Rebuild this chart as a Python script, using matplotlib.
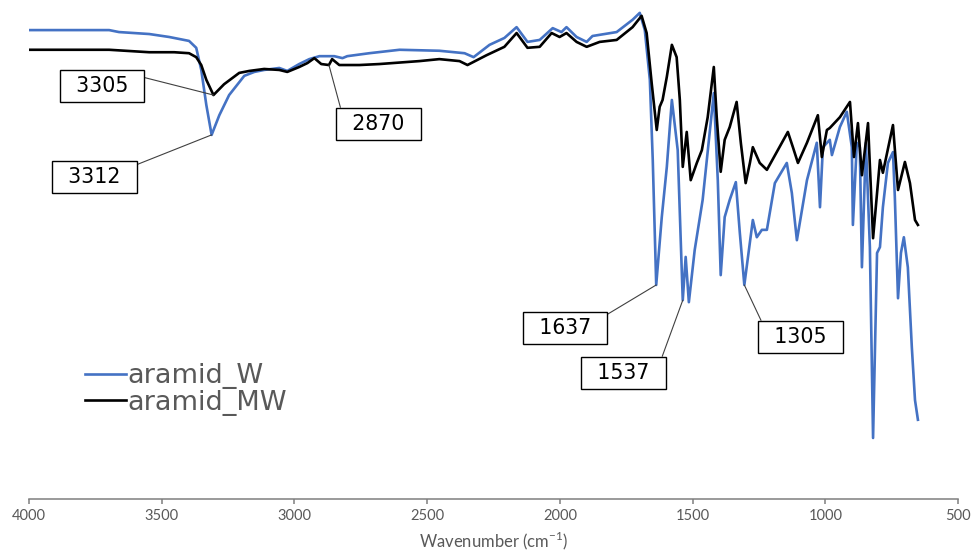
import numpy as np
import matplotlib
matplotlib.use("Agg")
import matplotlib.pyplot as plt

plt.rcParams["font.family"] = ["DejaVu Sans"]
plt.rcParams["mathtext.fontset"] = "custom"
plt.rcParams["mathtext.rm"] = "Lato"

# FTIR spectra, transmittance (a.u.) vs wavenumber
wn_w = [4000, 3698, 3661, 3547, 3472, 3397, 3370, 3351, 3332, 3312,
        3283, 3246, 3189, 3151, 3114, 3057, 3027, 2982, 2944, 2906,
        2850, 2819, 2801, 2718, 2604, 2454, 2359, 2325, 2265, 2209,
        2163, 2122, 2076, 2027, 1994, 1975, 1937, 1899, 1877, 1786,
        1726, 1699, 1680, 1661, 1650, 1637, 1616, 1597, 1578, 1556,
        1537, 1526, 1514, 1492, 1462, 1420, 1405, 1394, 1379, 1360,
        1337, 1322, 1305, 1273, 1258, 1239, 1220, 1190, 1145, 1126,
        1107, 1069, 1032, 1020, 1009, 983, 975, 945, 919, 900,
        896, 881, 870, 862, 847, 832, 820, 805, 794, 783,
        764, 745, 738, 726, 715, 704, 689, 674, 662, 651]
t_w = [94.9, 94.9, 94.5, 94.1, 93.5, 92.7, 91.3, 86.8, 79.7, 73.6,
       77.6, 81.7, 85.6, 86.4, 86.8, 87.2, 86.6, 88.0, 89.0, 89.6,
       89.6, 89.2, 89.6, 90.2, 90.9, 90.7, 90.2, 89.4, 91.9, 93.3,
       95.5, 92.5, 92.9, 95.3, 94.5, 95.5, 93.5, 92.5, 93.7, 94.5,
       97.0, 98.4, 94.9, 84.8, 68.5, 43.1, 56.9, 67.1, 80.7, 70.5,
       40.0, 48.8, 39.6, 50.2, 60.4, 82.1, 64.4, 45.1, 56.9, 60.4,
       64.0, 53.7, 43.1, 56.3, 52.8, 54.3, 54.3, 63.8, 67.9, 61.8,
       52.2, 64.4, 72.0, 58.9, 71.1, 72.6, 69.5, 75.2, 78.3, 71.1,
       55.3, 72.0, 71.1, 46.7, 72.0, 50.8, 12.0, 49.6, 50.8, 58.9,
       67.9, 70.1, 61.0, 40.4, 49.6, 52.8, 46.7, 30.5, 19.7, 15.7]

wn_mw = [4000, 3698, 3547, 3453, 3397, 3370, 3351, 3332, 3305, 3265,
         3208, 3170, 3114, 3057, 3027, 2982, 2951, 2925, 2899, 2870,
         2858, 2831, 2755, 2680, 2529, 2454, 2378, 2348, 2276, 2209,
         2163, 2122, 2076, 2031, 2001, 1975, 1937, 1899, 1850, 1786,
         1726, 1692, 1673, 1654, 1635, 1624, 1613, 1597, 1578, 1560,
         1548, 1537, 1522, 1507, 1484, 1465, 1443, 1420, 1409, 1394,
         1379, 1360, 1334, 1318, 1300, 1284, 1273, 1247, 1220, 1183,
         1141, 1122, 1103, 1069, 1028, 1013, 994, 983, 945, 907,
         892, 877, 862, 839, 820, 794, 783, 745, 726, 700,
         681, 662, 651]
t_mw = [90.9, 90.9, 90.4, 90.4, 90.2, 89.4, 87.8, 84.8, 81.7, 83.9,
        86.2, 86.6, 87.0, 86.8, 86.4, 87.4, 88.2, 89.2, 88.0, 87.8,
        89.0, 87.8, 87.8, 88.0, 88.6, 89.0, 88.6, 87.8, 89.8, 91.5,
        94.3, 91.3, 91.5, 94.3, 93.5, 94.3, 92.5, 91.5, 92.5, 92.9,
        95.5, 97.8, 94.3, 84.1, 74.6, 79.3, 80.7, 85.4, 91.9, 89.4,
        80.7, 67.1, 74.2, 64.4, 67.9, 70.5, 77.2, 87.4, 77.2, 66.1,
        72.6, 75.2, 80.3, 71.9, 63.8, 67.9, 71.1, 67.9, 66.5, 70.1,
        74.2, 71.1, 67.9, 72.0, 77.6, 69.1, 74.6, 75.0, 77.2, 80.3,
        69.1, 76.0, 65.4, 76.0, 52.6, 68.5, 65.9, 75.6, 62.4, 68.1,
        63.8, 56.3, 55.3]

labels = ["aramid_W", "aramid_MW"]

# peak labels: (wavenumber, which spectrum, box centre in fig pixels, corner the leader starts from)
peaks = [
    (3305, "mw", (102, 464), (1, 1)),
    (3312, "w", (94.5, 373), (1, 1)),
    (2870, "mw", (378.5, 426), (0, 1)),
    (1637, "w", (565, 222), (1, 1)),
    (1537, "w", (623.5, 177), (1, 1)),
    (1305, "w", (800.5, 213), (0, 1)),
]

fig = plt.figure(figsize=(9.71, 5.5), dpi=100)
ax = fig.add_axes([29 / 971, 1 - 499 / 550, 929 / 971, 494 / 550])

ax.plot(wn_w, t_w, color="#4472C4", lw=1.9, solid_joinstyle="round", label=labels[0])
ax.plot(wn_mw, t_mw, color="black", lw=1.9, solid_joinstyle="round", label=labels[1])

ax.set_xlim(4000, 500)
ax.set_ylim(-0.4, 100)
ax.set_xticks(np.arange(4000, 499, -500))
ax.set_yticks([])
for s in ["top", "right", "left"]:
    ax.spines[s].set_visible(False)
ax.spines["bottom"].set_color("#7f7f7f")
ax.spines["bottom"].set_linewidth(1.1)
ax.tick_params(axis="x", direction="out", length=3.5, width=1.1, color="#7f7f7f",
               pad=3.5, labelsize=10.5, labelcolor="#595959")
for lab in ax.get_xticklabels():
    lab.set_family("Lato")
ax.set_xlabel("Wavenumber (cm$^{-1}$)", family="Lato", fontsize=12,
              color="#595959", labelpad=5)

series = {"w": (wn_w, t_w), "mw": (wn_mw, t_mw)}
for wn, key, pos, corner in peaks:
    xs, ys = series[key]
    y = np.interp(wn, xs[::-1], ys[::-1])
    ax.annotate("\u2002%d\u2002" % wn, xy=(wn, y), xycoords="data",
                xytext=pos, textcoords="figure pixels",
                ha="center", va="center", fontsize=14.8, color="black",
                bbox=dict(boxstyle="square,pad=0.3", fc="white", ec="black", lw=1.0),
                arrowprops=dict(arrowstyle="-", color="#404040", lw=0.8,
                                shrinkA=0, shrinkB=0, relpos=corner))

leg = ax.legend(loc="upper left", bbox_to_anchor=(85 / 971, 1 - 363 / 550),
                bbox_transform=fig.transFigure, frameon=False, fontsize=19.5,
                handlelength=1.5, handletextpad=0.05, labelspacing=0.03,
                borderpad=0, borderaxespad=0)
for txt in leg.get_texts():
    txt.set_color("#595959")

fig.savefig("out.png", dpi=100)
